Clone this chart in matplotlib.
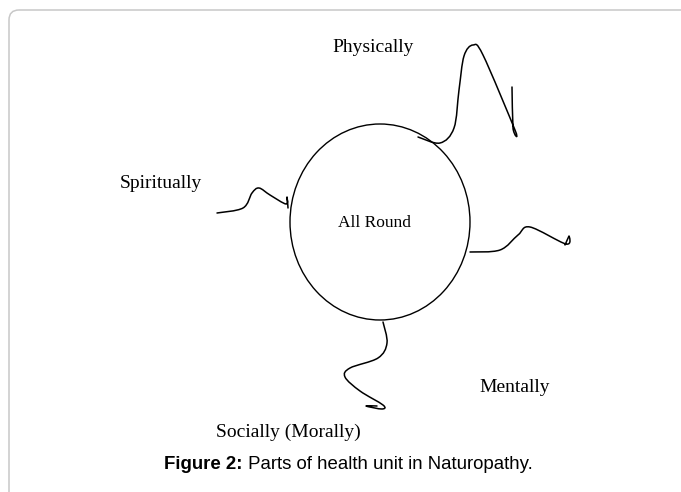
import numpy as np
import matplotlib.pyplot as plt
from matplotlib.patches import Ellipse, PathPatch, FancyBboxPatch
from matplotlib.path import Path

# -----------------------------
# Diagram content (pixel coords, y down)
# -----------------------------
W, H = 681, 492

centre_label = "All Round"
circle_xy = (380, 222)
circle_w, circle_h = 180, 196

labels = ["Physically", "Spiritually", "Mentally", "Socially (Morally)"]
label_x = [373, 161, 515, 288]
label_y = [52, 188, 392, 437]

# squiggly "arms" leaving the circle, knot points
arm_physically = [(418, 137), (440, 143), (454, 128), (459, 90), (464, 56),
                  (473, 45), (483, 55), (515, 130), (513, 128), (512, 87)]
arm_spiritually = [(217, 213), (243, 208), (252, 193), (259, 188), (270, 195),
                   (286, 204), (287, 197), (288, 208)]
arm_mentally = [(470, 252), (500, 250), (518, 235), (530, 227), (566, 244),
                (569, 236), (565, 245)]
arm_socially = [(383, 322), (387, 343), (378, 358), (350, 368), (345, 377),
                (360, 391), (383, 405), (382, 409), (366, 406), (377, 406)]
arms = [arm_physically, arm_spiritually, arm_mentally, arm_socially]

caption_bold = "Figure 2:"
caption_rest = " Parts of health unit in Naturopathy."


def smooth_path(pts):
    # Catmull-Rom knots -> cubic bezier path
    p = np.array(pts, dtype=float)
    p = np.vstack([p[0], p, p[-1]])
    verts = [tuple(p[1])]
    codes = [Path.MOVETO]
    for i in range(1, len(p) - 2):
        c1 = p[i] + (p[i + 1] - p[i - 1]) / 6.0
        c2 = p[i + 1] - (p[i + 2] - p[i]) / 6.0
        verts += [tuple(c1), tuple(c2), tuple(p[i + 1])]
        codes += [Path.CURVE4] * 3
    return Path(verts, codes)


# -----------------------------
# Figure
# -----------------------------
fig = plt.figure(figsize=(W / 100, H / 100), dpi=100)
ax = fig.add_axes([0, 0, 1, 1])
ax.set_xlim(0, W)
ax.set_ylim(H, 0)
ax.axis("off")

# page frame, rounded top-left corner
frame = FancyBboxPatch((9, 10), W + 40, H + 40,
                       boxstyle="round,pad=0,rounding_size=10",
                       fill=False, edgecolor="#c8c8c8", linewidth=1.1)
ax.add_patch(frame)

ax.add_patch(Ellipse(circle_xy, circle_w, circle_h, fill=False,
                     edgecolor="black", linewidth=1.0))

for pts in arms:
    ax.add_patch(PathPatch(smooth_path(pts), fill=False,
                           edgecolor="black", linewidth=1.1,
                           capstyle="round", joinstyle="round"))

serif = "Liberation Serif"
ax.text(375, circle_xy[1] + 5, centre_label, family=serif,
        fontsize=12.5, ha="center", va="baseline")
for t, x, y in zip(labels, label_x, label_y):
    ax.text(x, y, t, family=serif, fontsize=14, ha="center", va="baseline")

ax.text(243, 469, caption_bold, family="Liberation Sans", fontsize=13.4,
        fontweight="bold", ha="right", va="baseline")
ax.text(243, 469, caption_rest, family="Liberation Sans", fontsize=13.4,
        ha="left", va="baseline")

fig.savefig("out.png", dpi=100)
